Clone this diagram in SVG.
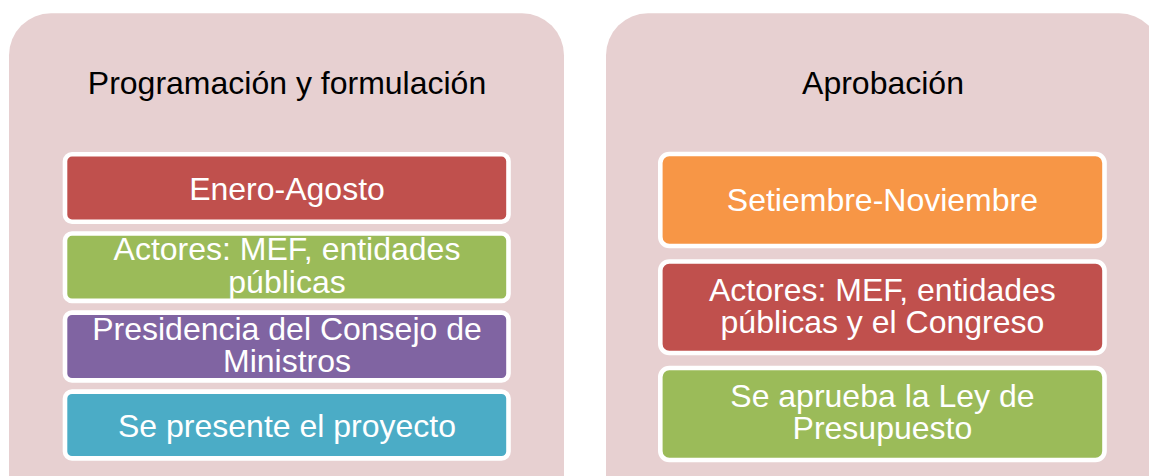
<svg xmlns="http://www.w3.org/2000/svg" width="1149" height="476" viewBox="0 0 1149 476">
<style>
.panel{fill:#E7D0D1;}
.box{stroke:#FFFFFF;stroke-width:4.6;}
.hdr{font-family:"Liberation Sans",Arial,sans-serif;font-size:32px;fill:#000000;text-anchor:middle;}
.lbl{font-family:"Liberation Sans",Arial,sans-serif;font-size:32px;fill:#FFFFFF;text-anchor:middle;}
.red{fill:#C0504D;}
.green{fill:#9BBB59;}
.purple{fill:#8064A2;}
.teal{fill:#4BACC6;}
.orange{fill:#F79646;}
</style>
<rect width="1149" height="476" fill="#FFFFFF"/>
<g id="panel-programacion">
<rect class="panel" x="9" y="13.3" width="555" height="520" rx="42" ry="42"/>
<text class="hdr" x="287" y="94">Programación y formulación</text>
</g>
<g id="panel-aprobacion">
<rect class="panel" x="606" y="13.3" width="555" height="520" rx="42" ry="42"/>
<text class="hdr" x="883" y="94">Aprobación</text>
</g>
<g id="node-enero-agosto">
<rect class="box red" x="65" y="154.3" width="443.5" height="67.4" rx="7"/>
<text class="lbl" x="287" y="199.5">Enero-Agosto</text>
</g>
<g id="node-actores-1">
<rect class="box green" x="65" y="233.5" width="443.5" height="67.4" rx="7"/>
<text class="lbl" x="287" y="260">Actores: MEF, entidades</text>
<text class="lbl" x="287" y="293.3">públicas</text>
</g>
<g id="node-presidencia">
<rect class="box purple" x="65" y="312.6" width="443.5" height="67.8" rx="7"/>
<text class="lbl" x="287" y="340">Presidencia del Consejo de</text>
<text class="lbl" x="287" y="372.3">Ministros</text>
</g>
<g id="node-proyecto">
<rect class="box teal" x="65" y="391.6" width="443.5" height="66.8" rx="7"/>
<text class="lbl" x="287" y="436.5">Se presente el proyecto</text>
</g>
<g id="node-setiembre">
<rect class="box orange" x="660.3" y="154" width="444.2" height="92" rx="9"/>
<text class="lbl" x="882.4" y="211.3">Setiembre-Noviembre</text>
</g>
<g id="node-actores-2">
<rect class="box red" x="660.3" y="261.5" width="444.2" height="91.5" rx="9"/>
<text class="lbl" x="882.4" y="300.7">Actores: MEF, entidades</text>
<text class="lbl" x="882.4" y="333.3">públicas y el Congreso</text>
</g>
<g id="node-ley">
<rect class="box green" x="660.3" y="368" width="444.2" height="92" rx="9"/>
<text class="lbl" x="882.4" y="406.7">Se aprueba la Ley de</text>
<text class="lbl" x="882.4" y="439.3">Presupuesto</text>
</g>
<g id="connectors"></g>
</svg>
